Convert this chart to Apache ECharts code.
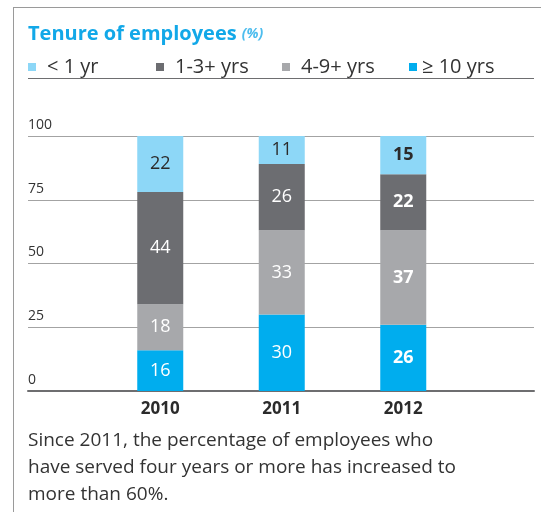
<!DOCTYPE html>
<html>
<head>
<meta charset="utf-8">
<script src="https://cdn.jsdelivr.net/npm/echarts@6/dist/echarts.min.js"></script>
<style>
  html, body { margin: 0; padding: 0; background: #ffffff; }
  #chart { width: 541px; height: 512px; }
</style>
</head>
<body>
<div id="chart"></div>
<script>
// Tenure of employees, share of headcount (%) per year
var years = ['2010', '2011', '2012'];
var tenureUnder1 = [22, 11, 15];
var tenure1to3 = [44, 26, 22];
var tenure4to9 = [18, 33, 37];
var tenure10plus = [16, 30, 26];
var seriesNames = ['< 1 yr', '1-3+ yrs', '4-9+ yrs', '\u2265 10 yrs'];
var yTicks = [0, 25, 50, 75, 100];
var boldYear = '2012';

var FONT = '"Open Sans", "Noto Sans", sans-serif';
var colors = {
  under1: '#8dd7f7',
  y1to3: '#6c6d71',
  y4to9: '#a7a8ab',
  y10plus: '#00adee'
};

var chart = echarts.init(document.getElementById('chart'), null, { renderer: 'canvas' });

function barData(values, textColor) {
  return values.map(function (v, i) {
    var bold = years[i] === boldYear;
    return {
      value: v,
      label: { fontWeight: bold ? 'bold' : 'normal', color: textColor }
    };
  });
}

function barSeries(name, values, color, textColor) {
  return {
    name: name,
    type: 'bar',
    stack: 'tenure',
    xAxisIndex: 1,
    yAxisIndex: 1,
    barWidth: 46,
    itemStyle: { color: color },
    label: {
      show: true,
      position: 'inside',
      fontFamily: FONT,
      fontSize: 18,
      color: textColor
    },
    emphasis: { disabled: true },
    data: barData(values, textColor)
  };
}

function legendAt(left, name, textGap) {
  return {
    left: left,
    top: 57,
    padding: 0,
    icon: 'rect',
    itemWidth: 8,
    itemHeight: 8,
    selectedMode: false,
    data: [name],
    textStyle: {
      fontFamily: FONT,
      fontSize: 20,
      color: '#333333',
      padding: [0, 0, 0, textGap]
    }
  };
}

var option = {
  animation: false,
  backgroundColor: '#ffffff',
  title: {
    left: 28,
    top: 24,
    padding: 0,
    text: '{a|Tenure of employees} {b|(%)}',
    textStyle: {
      rich: {
        a: { fontFamily: FONT, fontSize: 20, fontWeight: 'bold', color: '#12a8e8' },
        b: { fontFamily: FONT, fontSize: 14, fontStyle: 'italic', color: '#4dbdee' }
      }
    }
  },
  legend: [
    legendAt(28, seriesNames[0], 6),
    legendAt(156, seriesNames[1], 6),
    legendAt(282, seriesNames[2], 6),
    legendAt(409, seriesNames[3], 0)
  ],
  grid: [
    // full-width grid carrying the gridlines and value labels
    { left: 28, right: 7, top: 136, bottom: 121 },
    // narrower grid holding the bars
    { left: 99.5, width: 364.5, top: 136, bottom: 121 }
  ],
  xAxis: [
    {
      gridIndex: 0,
      type: 'category',
      data: [''],
      axisLine: { show: true, lineStyle: { color: '#6e6e70', width: 2 } },
      axisTick: { show: false },
      axisLabel: { show: false }
    },
    {
      gridIndex: 1,
      type: 'category',
      data: years,
      axisLine: { show: false },
      axisTick: { show: false },
      axisLabel: {
        margin: 10,
        fontFamily: FONT,
        fontSize: 17,
        fontWeight: 'bold',
        color: '#2b2b2b'
      }
    }
  ],
  yAxis: [
    {
      gridIndex: 0,
      type: 'value',
      min: yTicks[0],
      max: yTicks[yTicks.length - 1],
      interval: yTicks[1] - yTicks[0],
      axisLine: { show: false },
      axisTick: { show: false },
      splitLine: { show: true, lineStyle: { color: '#a3a3a3', width: 1 } },
      axisLabel: {
        inside: true,
        margin: 0,
        align: 'left',
        verticalAlign: 'bottom',
        padding: [0, 0, 4, 0],
        fontFamily: FONT,
        fontSize: 14,
        color: '#333333'
      }
    },
    {
      gridIndex: 1,
      type: 'value',
      min: yTicks[0],
      max: yTicks[yTicks.length - 1],
      show: false,
      splitLine: { show: false }
    }
  ],
  series: [
    barSeries(seriesNames[3], tenure10plus, colors.y10plus, '#ffffff'),
    barSeries(seriesNames[2], tenure4to9, colors.y4to9, '#ffffff'),
    barSeries(seriesNames[1], tenure1to3, colors.y1to3, '#ffffff'),
    barSeries(seriesNames[0], tenureUnder1, colors.under1, '#2b2b2b')
  ],
  graphic: [
    // panel frame: left and top rules
    { type: 'line', silent: true, shape: { x1: 13.5, y1: 7, x2: 13.5, y2: 512 },
      style: { stroke: '#9a9a9a', lineWidth: 1 } },
    { type: 'line', silent: true, shape: { x1: 13, y1: 7.5, x2: 541, y2: 7.5 },
      style: { stroke: '#9a9a9a', lineWidth: 1 } },
    // rule under the legend
    { type: 'line', silent: true, shape: { x1: 28, y1: 78.5, x2: 534, y2: 78.5 },
      style: { stroke: '#6e6e70', lineWidth: 1 } },
    {
      type: 'text',
      silent: true,
      left: 28,
      top: 427,
      style: {
        text: 'Since 2011, the percentage of employees who\nhave served four years or more has increased to\nmore than 60%.',
        font: '19px ' + FONT,
        lineHeight: 27,
        fill: '#333333'
      }
    }
  ]
};

chart.setOption(option);
</script>
</body>
</html>
